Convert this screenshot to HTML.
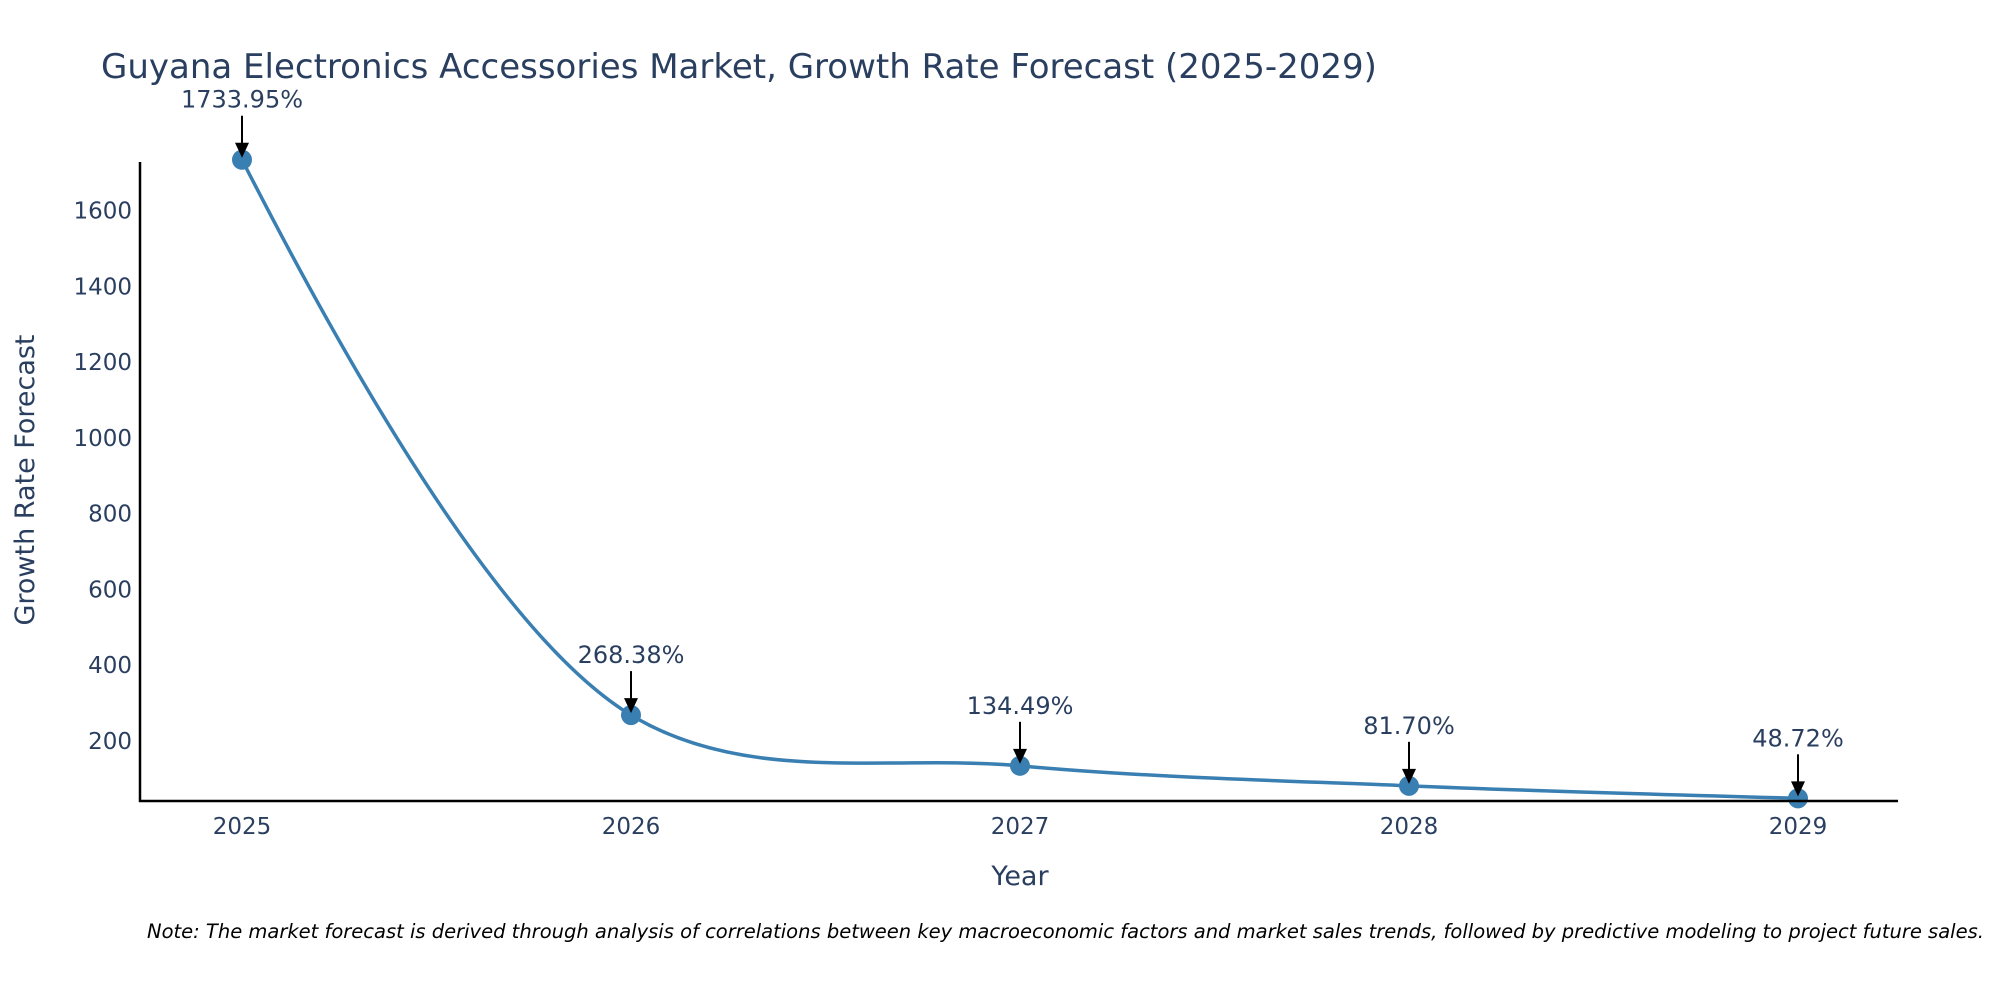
<!DOCTYPE html>
<html><head><meta charset="utf-8">
<style>
html,body{margin:0;padding:0;background:#fff;}
svg{display:block;font-family:"DejaVu Sans","Liberation Sans",sans-serif;}
</style></head>
<body>
<svg id="chart" width="2000" height="1000" viewBox="0 0 2000 1000">
<text x="101" y="78" font-size="34" fill="#2a3f5f">Guyana Electronics Accessories Market, Growth Rate Forecast (2025-2029)</text>
<g id="yticks"></g>
<g id="xticks"></g>
<path id="line" fill="none" stroke="#3a7fb2" stroke-width="3.5"></path>
<g id="points"></g>
<g id="annots"></g>
<line x1="140" y1="162" x2="140" y2="802" stroke="#000" stroke-width="2.5"/>
<line x1="139" y1="801" x2="1898" y2="801" stroke="#000" stroke-width="2.5"/>
<text x="34" y="480" font-size="27" fill="#2a3f5f" text-anchor="middle" transform="rotate(-90 34 480)">Growth Rate Forecast</text>
<text x="1020" y="885" font-size="27" fill="#2a3f5f" text-anchor="middle">Year</text>
<text x="147" y="938" font-size="19.5" font-style="italic" fill="#000">Note: The market forecast is derived through analysis of correlations between key macroeconomic factors and market sales trends, followed by predictive modeling to project future sales.</text>
</svg>
<script>
const years = [2025, 2026, 2027, 2028, 2029];
const growth = [1733.95, 268.38, 134.49, 81.70, 48.72];
const yTickValues = [200, 400, 600, 800, 1000, 1200, 1400, 1600];

const NS = "http://www.w3.org/2000/svg";
function xs(v){ return 242 + (v - 2025) * (1798 - 242) / 4; }
function ys(v){ return 741 - (v - 200) * (741 - 210.5) / 1400; }

const yt = document.getElementById('yticks');
yTickValues.forEach(v => {
  const t = document.createElementNS(NS, 'text');
  
  
  t.setAttribute('x', 132); t.setAttribute('y', ys(v) + 8);
  t.setAttribute('text-anchor', 'end'); t.setAttribute('font-size', '23'); t.setAttribute('fill', '#2a3f5f');
  t.textContent = v; yt.appendChild(t);
});
const xt = document.getElementById('xticks');
years.forEach(v => {
  const t = document.createElementNS(NS, 'text');
  
  
  t.setAttribute('x', xs(v)); t.setAttribute('y', 834);
  t.setAttribute('text-anchor', 'middle'); t.setAttribute('font-size', '23'); t.setAttribute('fill', '#2a3f5f');
  t.textContent = v; xt.appendChild(t);
});

const pts = years.map((y, i) => [xs(y), ys(growth[i])]);
function makeTangent(p0, p1, p2, s) {
  const d1x = p0[0]-p1[0], d1y = p0[1]-p1[1], d2x = p2[0]-p1[0], d2y = p2[1]-p1[1];
  const d1a = Math.pow(d1x*d1x + d1y*d1y, 0.25), d2a = Math.pow(d2x*d2x + d2y*d2y, 0.25);
  const numx = (d2a*d2a*d1x - d1a*d1a*d2x) * s, numy = (d2a*d2a*d1y - d1a*d1a*d2y) * s;
  const den1 = 3*d2a*(d1a+d2a), den2 = 3*d1a*(d1a+d2a);
  return [[p1[0] + numx/den1, p1[1] + numy/den1], [p1[0] - numx/den2, p1[1] - numy/den2]];
}
const tg = [];
for (let i = 1; i < pts.length - 1; i++) tg.push(makeTangent(pts[i-1], pts[i], pts[i+1], 1));
const n = pts.length;
let d = 'M' + pts[0] + ' Q' + tg[0][0] + ' ' + pts[1];
for (let i = 1; i < n - 2; i++) d += ' C' + tg[i-1][1] + ' ' + tg[i][0] + ' ' + pts[i+1];
d += ' Q' + tg[n-3][1] + ' ' + pts[n-1];
document.getElementById('line').setAttribute('d', d);

const pg = document.getElementById('points'), ag = document.getElementById('annots');
pts.forEach((p, i) => {
  const c = document.createElementNS(NS, 'circle');
  
  
  c.setAttribute('cx', p[0]); c.setAttribute('cy', p[1]); c.setAttribute('r', 10);
  c.setAttribute('fill', '#3a7fb2'); pg.appendChild(c);
  const l = document.createElementNS(NS, 'line');
  
  
  l.setAttribute('x1', p[0]); l.setAttribute('x2', p[0]);
  l.setAttribute('y1', p[1] - 44); l.setAttribute('y2', p[1] - 12);
  l.setAttribute('stroke', '#000'); l.setAttribute('stroke-width', '2'); ag.appendChild(l);
  const h = document.createElementNS(NS, 'polygon');
  
  
  h.setAttribute('points', (p[0]-7)+','+(p[1]-17)+' '+(p[0]+7)+','+(p[1]-17)+' '+p[0]+','+(p[1]-2));
  h.setAttribute('fill', '#000'); ag.appendChild(h);
  const t = document.createElementNS(NS, 'text');
  
  
  t.setAttribute('x', p[0]); t.setAttribute('y', p[1] - 52);
  t.setAttribute('text-anchor', 'middle'); t.setAttribute('font-size', '24'); t.setAttribute('fill', '#2a3f5f');
  t.textContent = growth[i].toFixed(2) + '%'; ag.appendChild(t);
});
</script>
</body></html>
